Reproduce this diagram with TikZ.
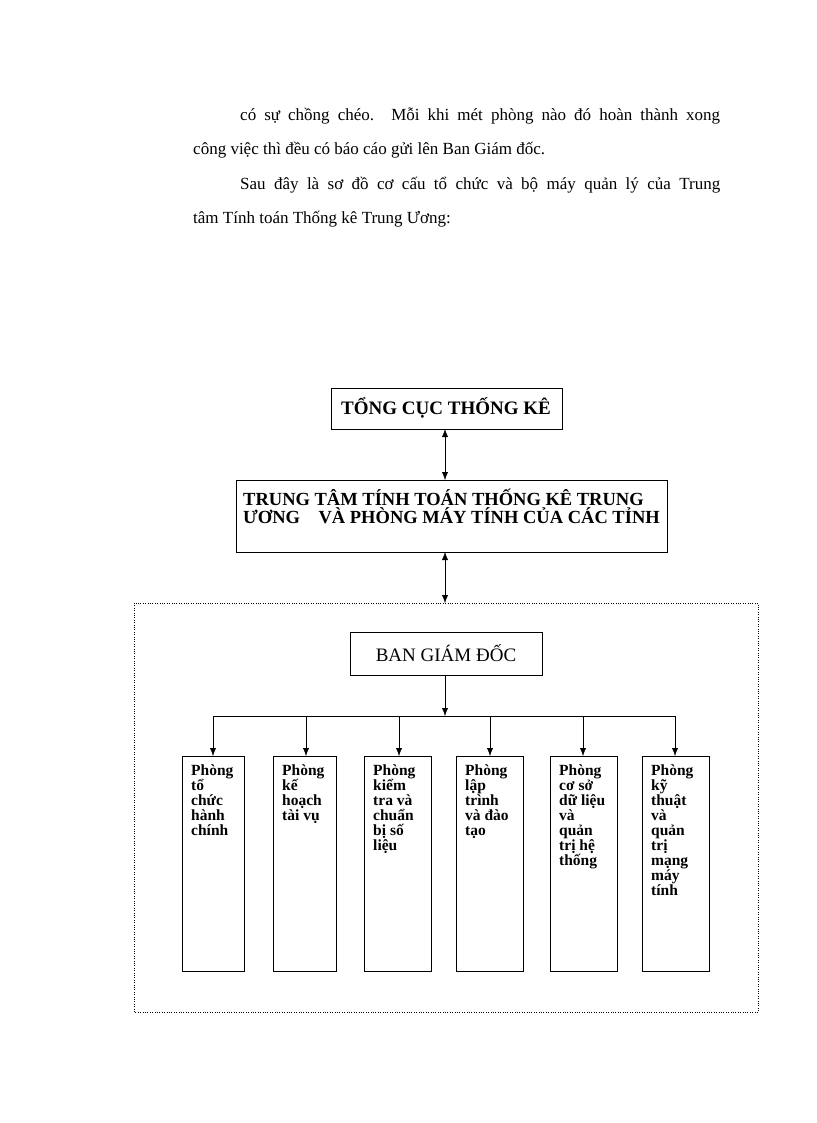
\documentclass[tikz,border=0pt]{standalone}
\usepackage{fontspec}
\setmainfont{Liberation Serif}
\usetikzlibrary{arrows.meta}
\begin{document}
\begin{tikzpicture}[x=1pt,y=-1pt,
  arr/.style={-{Latex[length=8pt,width=6pt]}},
  darr/.style={{Latex[length=8pt,width=6pt]}-{Latex[length=8pt,width=6pt]}},
  ptxt/.style={anchor=base west,inner sep=0pt,font=\fontsize{17}{18}\selectfont},
  small/.style={anchor=north west,inner sep=0pt,align=left,font=\fontsize{15.5}{15}\selectfont\bfseries}]
\useasboundingbox (0,0) rectangle (816,1123);
\node[ptxt] (p1) at (240,121) {\makebox[480pt][s]{có sự chồng chéo. Mỗi khi mét phòng nào đó hoàn thành xong}};
\node[ptxt] (p2) at (193,155) {công việc thì đều có báo cáo gửi lên Ban Giám đốc.};
\node[ptxt] (p3) at (240,190) {\makebox[480pt][s]{Sau đây là sơ đồ cơ cấu tổ chức và bộ máy quản lý của Trung}};
\node[ptxt] (p4) at (193,224) {tâm Tính toán Thống kê Trung Ương:};

\draw[thin] (331,388) rectangle (562,429);
\node[font=\fontsize{19}{19}\selectfont\bfseries] (t1) at (446,408) {TỔNG CỤC THỐNG KÊ};
\coordinate (b1) at (445,429);
\draw[thin] (236,480) rectangle (667,552);
\node[anchor=north west,align=left,inner sep=0pt,font=\fontsize{18.5}{18}\selectfont\bfseries] (t2) at (243,489) {TRUNG TÂM TÍNH TOÁN THỐNG KÊ TRUNG\\ƯƠNG\quad VÀ PHÒNG MÁY TÍNH CỦA CÁC TỈNH};
\coordinate (b2t) at (445,480);
\coordinate (b2b) at (445,552);
\draw[darr] (b1) -- (b2t);
\draw[dotted] (134,603) rectangle (758,1012);
\coordinate (dt) at (445,603);
\draw[darr] (b2b) -- (dt);
\draw[thin] (350,632) rectangle (542,675);
\node[font=\fontsize{19}{19}\selectfont] (bgd) at (446,653) {BAN GIÁM ĐỐC};
\coordinate (bgdb) at (445,675);
\coordinate (hj) at (445,716);
\draw[arr] (bgdb) -- (hj);
\draw (213,716) -- (675,716);
\foreach \xa/\xb/\xm/\t in {182/244/213/{Phòng\\tổ\\chức\\hành\\chính},
  273/336/306/{Phòng\\kế\\hoạch\\tài vụ},
  364/431/399/{Phòng\\kiểm\\tra và\\chuẩn\\bị số\\liệu},
  456/523/490/{Phòng\\lập\\trình\\và đào\\tạo},
  550/617/583/{Phòng\\cơ sở\\dữ liệu\\và\\quản\\trị hệ\\thống},
  642/709/675/{Phòng\\kỹ\\thuật\\và\\quản\\trị\\mạng\\máy\\tính}}{
  \draw[thin] (\xa,756) rectangle (\xb,971);
  \coordinate (top\xm) at (\xm,756);
  \draw[arr] (\xm,716) -- (top\xm);
  \node[small] (s\xm) at (\xa+9,765) {\t};
}
\end{tikzpicture}
\end{document}
